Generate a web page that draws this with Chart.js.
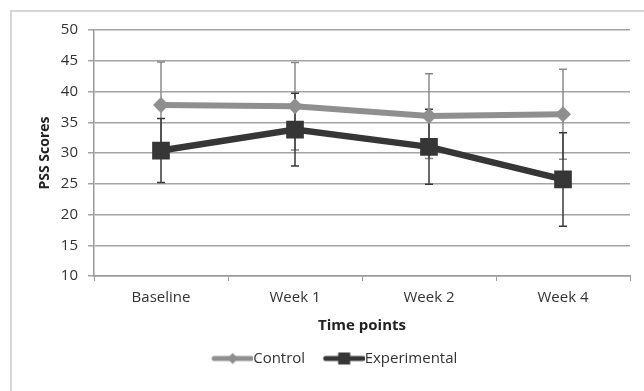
<!DOCTYPE html>
<html>
<head>
<meta charset="utf-8">
<script src="https://cdn.jsdelivr.net/npm/chart.js@4/dist/chart.umd.min.js"></script>
<style>
  html, body { margin: 0; padding: 0; background: #fff; }
  #wrap { position: relative; width: 644px; height: 391px; overflow: hidden; }
  #frame { position: absolute; left: 10px; top: 10px; width: 700px; height: 450px; border: 2px solid #d6d6d6; }
  canvas { position: absolute; left: 0; top: 0; }
</style>
</head>
<body>
<div id="wrap">
  <div id="frame"></div>
  <canvas id="chart" width="644" height="391"></canvas>
</div>
<script>
const categories = ['Baseline', 'Week 1', 'Week 2', 'Week 4'];
const controlScores = [37.8, 37.6, 36.0, 36.3];
const controlSD = [7.0, 7.1, 6.9, 7.3];
const experimentalScores = [30.4, 33.8, 31.0, 25.7];
const experimentalSD = [5.2, 5.9, 6.1, 7.6];
const yTicks = [10, 15, 20, 25, 30, 35, 40, 45, 50];

const GRAY = '#8f8f8f';
const DARK = '#363636';
const FONT = "'Open Sans', 'Noto Sans', sans-serif";

// little line+marker pictures for the legend
function legendSymbol(color, kind) {
	const c = document.createElement('canvas');
	c.width = 52;
	c.height = 16;
	const g = c.getContext('2d');
	g.strokeStyle = color;
	g.lineWidth = 5;
	g.lineCap = 'round';
	g.beginPath();
	g.moveTo(13, 8);
	g.lineTo(50, 8);
	g.stroke();
	g.fillStyle = color;
	const cx = 31.5;
	if (kind === 'diamond') {
		g.beginPath();
		g.moveTo(cx, 2.5);
		g.lineTo(cx + 5.5, 8);
		g.lineTo(cx, 13.5);
		g.lineTo(cx - 5.5, 8);
		g.closePath();
		g.fill();
	} else {
		g.fillRect(cx - 6, 2, 12, 12);
	}
	return c;
}

const errorBars = {
	id: 'errorBars',
	beforeDatasetsDraw(chart) {
		const {ctx, scales: {x, y}} = chart;
		const sets = [
			{values: controlScores, sd: controlSD, color: '#8a8a8a'},
			{values: experimentalScores, sd: experimentalSD, color: '#3a3a3a'}
		];
		ctx.save();
		sets.forEach(s => {
			ctx.strokeStyle = s.color;
			ctx.lineWidth = 1.5;
			s.values.forEach((v, i) => {
				const px = x.getPixelForValue(i);
				const top = y.getPixelForValue(v + s.sd[i]);
				const bot = y.getPixelForValue(v - s.sd[i]);
				ctx.beginPath();
				ctx.moveTo(px, top);
				ctx.lineTo(px, bot);
				ctx.moveTo(px - 4, top);
				ctx.lineTo(px + 4, top);
				ctx.moveTo(px - 4, bot);
				ctx.lineTo(px + 4, bot);
				ctx.stroke();
			});
		});
		ctx.restore();
	}
};

const ctx = document.getElementById('chart').getContext('2d');
new Chart(ctx, {
	type: 'line',
	data: {
		labels: categories,
		datasets: [{
			label: 'Control',
			data: controlScores,
			borderColor: GRAY,
			backgroundColor: GRAY,
			borderWidth: 6,
			pointStyle: 'rectRot',
			pointRadius: 8,
			pointBorderWidth: 0,
			order: 1,
			legendSymbol: legendSymbol(GRAY, 'diamond')
		},
		{
			label: 'Experimental',
			data: experimentalScores,
			borderColor: DARK,
			backgroundColor: DARK,
			borderWidth: 6.5,
			pointStyle: 'rect',
			pointRadius: 12.5,
			pointBorderWidth: 0,
			order: 0,
			legendSymbol: legendSymbol(DARK, 'square')
		}]
	},
	options: {
		responsive: false,
		animation: false,
		layout: {padding: {left: 36, right: 14, top: 30, bottom: 15}},
		plugins: {
			tooltip: {enabled: false},
			legend: {
				position: 'bottom',
				labels: {
					usePointStyle: true,
					pointStyleWidth: 37,
					padding: 15,
					color: '#333',
					font: {family: FONT, size: 15},
					generateLabels(chart) {
						return chart.data.datasets.map((ds, i) => ({
							text: ds.label,
							pointStyle: ds.legendSymbol,
							fillStyle: ds.backgroundColor,
							strokeStyle: ds.borderColor,
							lineWidth: 0,
							hidden: false,
							datasetIndex: i,
							fontColor: '#333'
						}));
					}
				}
			}
		},
		scales: {
			x: {
				offset: true,
				afterFit(scale) { scale.height = 60; },
				grid: {
					offset: true,
					drawOnChartArea: false,
					drawTicks: true,
					tickLength: 5,
					color: '#9a9a9a'
				},
				border: {color: '#9a9a9a', width: 1.5},
				ticks: {color: '#333', padding: 8, font: {family: FONT, size: 15}},
				title: {
					display: true,
					text: 'Time points',
					color: '#222',
					padding: {top: 0, bottom: 1},
					font: {family: FONT, size: 15, weight: 'bold'}
				}
			},
			y: {
				min: 10,
				max: 50,
				afterFit(scale) { scale.width = 58; },
				afterBuildTicks(scale) { scale.ticks = yTicks.map(v => ({value: v})); },
				grid: {color: '#a3a3a3', lineWidth: 1.5, tickLength: 6},
				border: {color: '#9a9a9a', width: 1.5},
				ticks: {color: '#333', padding: 10, font: {family: FONT, size: 15}},
				title: {
					display: true,
					text: 'PSS Scores',
					color: '#222',
					padding: {top: 1, bottom: 0},
					font: {family: FONT, size: 14, weight: 'bold'}
				}
			}
		}
	},
	plugins: [errorBars]
});
</script>
</body>
</html>
